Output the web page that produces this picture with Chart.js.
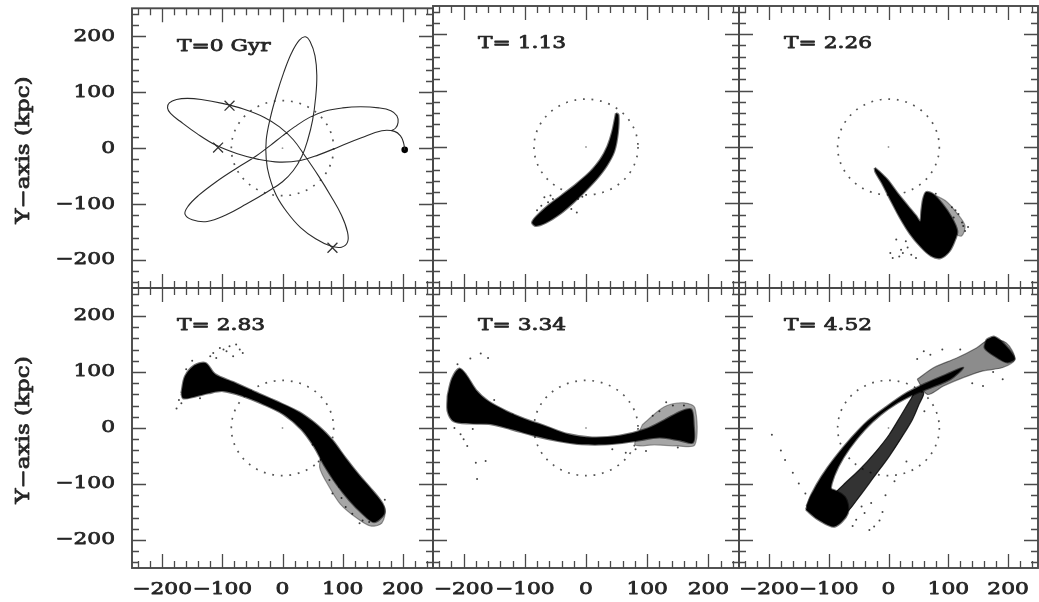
<!DOCTYPE html>
<html>
<head>
<meta charset="utf-8">
<script src="https://cdn.jsdelivr.net/npm/chart.js@4.4.1/dist/chart.umd.min.js"></script>
<style>
  html, body { margin: 0; padding: 0; background: #fff; }
  #wrap { position: relative; width: 1039px; height: 602px; overflow: hidden; background: #fff; }
  #wrap canvas { position: absolute; left: 0; top: 0; }
</style>
</head>
<body>
<div id="wrap"></div>
<script>
// ---- axis values (kpc) ----
const axisRange = [-250, 250];
const tickValues = [-200, -100, 0, 100, 200];
const minorTickValues = [-240, -220, -200, -180, -160, -140, -120, -100, -80, -60, -40, -20, 0,
                         20, 40, 60, 80, 100, 120, 140, 160, 180, 200, 220, 240];
const haloRadiusKpc = 85;
const panelLabels = ['T=0 Gyr', 'T= 1.13', 'T= 2.26', 'T= 2.83', 'T= 3.34', 'T= 4.52'];
const yAxisTitle = 'Y\u2212axis (kpc)';
const galaxyCentre = [[0, 0]];

// ---- T = 0: satellite orbit ----
const orbitTrack = [
  [203,-3],[201,10],[196,22],[186,30],[165,31],[130,18],[95,3],[60,-12],[30,-22],[-5,-25],[-40,-20],
  [-75,-10],[-110,5],[-142,26],[-170,48],[-186,62],[-191,72],[-188,81],[-176,87],[-158,89],[-135,87],
  [-100,80],[-65,70],[-30,55],[-5,38],[18,15],[38,-15],[60,-50],[80,-85],[98,-120],[108,-150],[108,-168],
  [98,-177],[80,-175],[55,-162],[30,-142],[8,-115],[-10,-85],[-22,-50],[-27,-20],[-27,15],[-20,55],
  [-10,95],[2,135],[15,170],[28,193],[38,199],[46,190],[54,165],[57,130],[55,90],[50,50],[42,15],
  [32,-15],[18,-40],[0,-60],[-25,-78],[-60,-100],[-95,-120],[-125,-131],[-150,-128],[-162,-118],
  [-157,-104],[-140,-85],[-110,-60],[-75,-35],[-45,-15],[-20,5],[0,22],[20,38],[45,55],[70,66],
  [100,72],[130,74],[160,72],[180,67],[190,58],[192,46],[188,36],[180,31]
];
const orbitMarks = [[-88,76],[-107,1],[83,-178]];
const satelliteNow = [[203,-3]];

// ---- T = 1.13 ----
const stream113 = [
  [49,60],[43,28],[35,1],[23,-23],[7,-44],[-15,-65],[-40,-86],[-62,-104],[-80,-122],[-88,-134],
  [-82,-140],[-65,-134],[-43,-119],[-21,-99],[-1,-78],[18,-56],[34,-33],[46,-8],[52,25],[53,57],[49,60]
];
const spray113 = [[-68,-89],[-62,-98],[-54,-92],[-32,-95],[-15,-116],[-13,-92],[-24,-110],[-73,-104],
  [-58,-86],[-45,-100],[-6,-88],[-80,-112]];

// ---- T = 2.26 ----
const stream226 = [
  [-23,-37],[-15,-44],[-1,-59],[15,-82],[32,-104],[46,-122],[53,-132],[55,-113],[58,-92],[63,-80],
  [74,-83],[90,-101],[105,-124],[115,-149],[110,-168],[101,-186],[87,-197],[71,-193],[54,-177],
  [36,-154],[19,-125],[3,-93],[-11,-64],[-22,-44],[-23,-37]
];
const halo226 = [[70,-82],[95,-95],[115,-118],[128,-140],[122,-158],[108,-150],[92,-120],[75,-100],[70,-82]];
const spray226 = [[7,-197],[18,-194],[21,-182],[29,-167],[38,-191],[13,-164],[46,-197],[117,-119],
  [128,-149],[123,-134],[106,-107],[109,-125],[79,-83],[51,-155],[3,-188],[125,-140],[24,-188],
  [32,-178],[133,-142],[112,-112],[60,-170]];

// ---- T = 2.83 ----
const stream283 = [
  [-168,62],[-162,92],[-146,112],[-128,116],[-112,96],[-82,82],[-49,66],[-11,48],[28,28],[61,2],
  [83,-22],[105,-54],[127,-84],[149,-111],[166,-135],[169,-153],[152,-168],[133,-153],[111,-129],
  [89,-99],[69,-66],[53,-34],[31,-2],[1,25],[-33,43],[-66,57],[-99,66],[-123,62],[-146,56],[-165,53],[-168,62]
];
const halo283 = [[64,-48],[92,-62],[118,-92],[146,-116],[170,-143],[165,-170],[146,-175],[122,-160],
  [96,-136],[78,-106],[62,-72],[64,-48]];
const spray283 = [[-115,134],[-104,143],[-88,146],[-77,149],[-71,140],[-93,137],[-82,128],[-110,125],
  [-176,35],[-168,44],[-137,53],[78,-93],[83,-117],[94,-105],[105,-141],[116,-153],[133,-165],[144,-168],
  [83,-81],[155,-147],[50,-30],[70,-58],[-160,105],[-150,120],[-98,140],[-66,134],[-120,128],[-172,50],
  [60,-60],[98,-125],[128,-170],[170,-128]];

// ---- T = 3.34 ----
const stream334 = [
  [-226,58],[-219,88],[-207,106],[-196,95],[-180,68],[-160,48],[-130,30],[-100,16],[-68,4],[-29,-11],
  [10,-17],[54,-14],[98,-2],[128,14],[156,30],[172,33],[176,5],[175,-26],[153,-22],[120,-17],[81,-23],
  [37,-29],[-7,-29],[-46,-23],[-84,-14],[-123,-2],[-156,7],[-189,8],[-216,12],[-226,30],[-226,58]
];
const halo334 = [[92,6],[128,38],[160,45],[178,36],[178,-30],[150,-32],[112,-30],[80,-30],[92,6]];
const spray334 = [[-189,124],[-172,133],[-205,-11],[-180,-62],[-178,-91],[-164,-59],[-194,-32],[131,46],
  [142,40],[109,22],[43,-38],[65,-44],[81,-38],[98,-41],[-200,-20],[-160,125],[150,-35],[-185,-2],
  [-170,22],[-210,114],[-215,0],[-150,50],[120,30],[160,40],[-120,24]];

// ---- T = 4.52 ----
const armOuter452 = [
  [-137,-140],[-128,-117],[-112,-87],[-90,-54],[-62,-18],[-35,12],[-2,39],[31,63],[65,81],[98,96],
  [125,108],[103,87],[70,72],[42,60],[15,45],[-13,24],[-40,-3],[-65,-36],[-84,-69],[-95,-99],[-98,-123],
  [-101,-146],[-101,-164],[-117,-155],[-137,-140]
];
const armInner452 = [
  [-95,-164],[-71,-152],[-49,-123],[-24,-87],[1,-51],[23,-15],[40,15],[51,42],[59,63],[48,69],[37,51],
  [20,21],[1,-12],[-21,-42],[-49,-75],[-76,-102],[-93,-123],[-95,-164]
];
const knot452 = [[-138,-146],[-126,-117],[-101,-108],[-73,-123],[-68,-152],[-90,-176],[-117,-164],[-138,-146]];
const band452 = [[48,87],[76,108],[114,125],[147,143],[169,158],[197,152],[211,123],[191,108],[158,102],
  [125,90],[92,75],[65,60],[48,87]];
const tip452 = [[164,158],[177,163],[194,149],[211,124],[199,117],[180,127],[161,143],[164,158]];
const spray452 = [[-195,-12],[-173,-57],[-150,-99],[-139,-117],[-24,-176],[-32,-182],[-40,-152],[-29,-134],
  [-54,-164],[59,137],[48,123],[70,131],[191,87],[158,75],[-180,-40],[-160,-80],[-10,-150],[-45,-140],
  [90,140],[120,140],[175,100],[140,80],[-5,-120],[-60,-175],[-15,-165],[10,-95],[30,-60],[60,30]];

// ---- panel geometry (canvas pixels) ----
const W = 1039, H = 602;
const colEdges = [[132, 433], [433, 739], [739, 1038]];
const rowEdges = [[6, 288], [288, 568]];

const pts = arr => arr.map(([x, y]) => ({x, y}));
const shape = (arr, color, edge) => ({data: pts(arr), showLine: true, fill: 'shape', backgroundColor: color,
  borderColor: edge || color, borderWidth: edge ? 2.2 : 1.2, pointRadius: 0, tension: 0.3});
const dots = (arr, r, color) => ({data: pts(arr), showLine: false, pointRadius: r, pointHoverRadius: r,
  pointBackgroundColor: color, pointBorderColor: color, pointBorderWidth: 0});
const centreDot = dots(galaxyCentre, 0.9, '#999');
const core = '#000', soft = 'rgba(0,0,0,0.55)';

const panels = [
  {col: 0, row: 0, datasets: [
    {data: pts(orbitTrack), showLine: true, fill: false, borderColor: '#2b2b2b', borderWidth: 1.1,
     pointRadius: 0, tension: 0.4},
    {data: pts(orbitMarks), showLine: false, pointStyle: 'crossRot', pointRadius: 7, pointHoverRadius: 7,
     pointBorderColor: '#333', pointBorderWidth: 1.3},
    dots(satelliteNow, 3.3, '#000'), centreDot]},
  {col: 1, row: 0, datasets: [shape(stream113, core, soft), dots(spray113, 1, '#444'), centreDot]},
  {col: 2, row: 0, datasets: [shape(halo226, 'rgba(0,0,0,0.35)'), shape(stream226, core, soft),
    dots(spray226, 1, '#444'), centreDot]},
  {col: 0, row: 1, datasets: [shape(halo283, 'rgba(0,0,0,0.35)'), shape(stream283, core, soft),
    dots(spray283, 1, '#444'), centreDot]},
  {col: 1, row: 1, datasets: [shape(halo334, 'rgba(0,0,0,0.35)'), shape(stream334, core, soft),
    dots(spray334, 1, '#444'), centreDot]},
  {col: 2, row: 1, datasets: [shape(band452, 'rgba(0,0,0,0.45)'), shape(tip452, core, soft),
    shape(armInner452, 'rgba(0,0,0,0.8)'), shape(armOuter452, core, soft), shape(knot452, core, soft),
    dots(spray452, 1, '#444'), centreDot]}
];

const lineColor = '#4a4a4a';
const textColor = '#262626';
const serif = '"DejaVu Serif", "Liberation Serif", serif';
const textStretch = 1.28;
const minusSign = v => String(v).replace('-', '\u2212');

function stretchedText(ctx, text, x, y, size, align, rotation) {
  ctx.save();
  ctx.translate(x, y);
  if (rotation) ctx.rotate(rotation);
  ctx.scale(textStretch, 1);
  ctx.font = size + 'px ' + serif;
  ctx.fillStyle = textColor;
  ctx.strokeStyle = textColor;
  ctx.lineWidth = 0.75;
  ctx.lineJoin = 'round';
  ctx.textAlign = align;
  ctx.textBaseline = 'middle';
  ctx.fillText(text, 0, 0);
  ctx.strokeText(text, 0, 0);
  ctx.restore();
}

// frame with inward ticks, tick labels, dotted halo circle and time label
const panelDecor = {
  id: 'panelDecor',
  beforeDatasetsDraw(chart) {
    const {ctx, scales: {x, y}} = chart;
    const cx = x.getPixelForValue(0), cy = y.getPixelForValue(0);
    const rx = x.getPixelForValue(haloRadiusKpc) - cx;
    const ry = cy - y.getPixelForValue(haloRadiusKpc);
    ctx.save();
    ctx.setLineDash([1.8, 6.8]);
    ctx.lineWidth = 1.7;
    ctx.strokeStyle = '#555';
    ctx.beginPath();
    ctx.ellipse(cx, cy, rx, ry, 0, 0, Math.PI * 2);
    ctx.stroke();
    ctx.restore();
  },
  afterDatasetsDraw(chart, args, opts) {
    const {ctx, chartArea: a, scales: {x, y}} = chart;
    ctx.save();
    ctx.strokeStyle = lineColor;
    ctx.lineWidth = 1.3;
    ctx.beginPath();
    minorTickValues.forEach(v => {
      const len = v % 100 === 0 ? 14 : 7;
      const px = Math.round(x.getPixelForValue(v)) + 0.5;
      ctx.moveTo(px, a.top); ctx.lineTo(px, a.top + len);
      ctx.moveTo(px, a.bottom); ctx.lineTo(px, a.bottom - len);
      const py = Math.round(y.getPixelForValue(v)) + 0.5;
      ctx.moveTo(a.left, py); ctx.lineTo(a.left + len, py);
      ctx.moveTo(a.right, py); ctx.lineTo(a.right - len, py);
    });
    ctx.stroke();
    ctx.lineWidth = 1.9;
    ctx.strokeRect(a.left, a.top, a.right - a.left, a.bottom - a.top);
    ctx.restore();

    if (opts.showY) {
      tickValues.forEach(v => stretchedText(ctx, minusSign(v), a.left - 17, y.getPixelForValue(v), 17, 'right'));
      stretchedText(ctx, yAxisTitle, 24, (a.top + a.bottom) / 2 + 2, 18, 'center', -Math.PI / 2);
    }
    if (opts.showX) {
      tickValues.forEach(v => stretchedText(ctx, minusSign(v), x.getPixelForValue(v), a.bottom + 22, 17, 'center'));
    }
    stretchedText(ctx, opts.label, a.left + 45, a.top + 38, 17, 'left');
  }
};

const wrap = document.getElementById('wrap');

panels.forEach((p, i) => {
  const canvas = document.createElement('canvas');
  canvas.width = W; canvas.height = H;
  canvas.style.width = W + 'px'; canvas.style.height = H + 'px';
  wrap.appendChild(canvas);
  const [l, r] = colEdges[p.col];
  const [t, b] = rowEdges[p.row];
  const hiddenAxis = {
    type: 'linear', min: axisRange[0], max: axisRange[1],
    grid: {display: false, drawTicks: false}, border: {display: false},
    ticks: {display: false},
    afterBuildTicks: s => { s.ticks = tickValues.map(v => ({value: v})); }
  };
  new Chart(canvas, {
    type: 'line',
    data: {datasets: p.datasets},
    options: {
      responsive: false,
      animation: false,
      devicePixelRatio: 1,
      events: [],
      layout: {padding: {left: l, right: W - r, top: t, bottom: H - b}},
      plugins: {
        legend: {display: false}, tooltip: {enabled: false},
        panelDecor: {label: panelLabels[i], showY: p.col === 0, showX: p.row === 1}
      },
      scales: {
        x: Object.assign({}, hiddenAxis, {afterFit: s => { s.height = 0; s.paddingLeft = 0; s.paddingRight = 0; }}),
        y: Object.assign({}, hiddenAxis, {afterFit: s => { s.width = 0; s.paddingTop = 0; s.paddingBottom = 0; }})
      }
    },
    plugins: [panelDecor]
  });
});
</script>
</body>
</html>
